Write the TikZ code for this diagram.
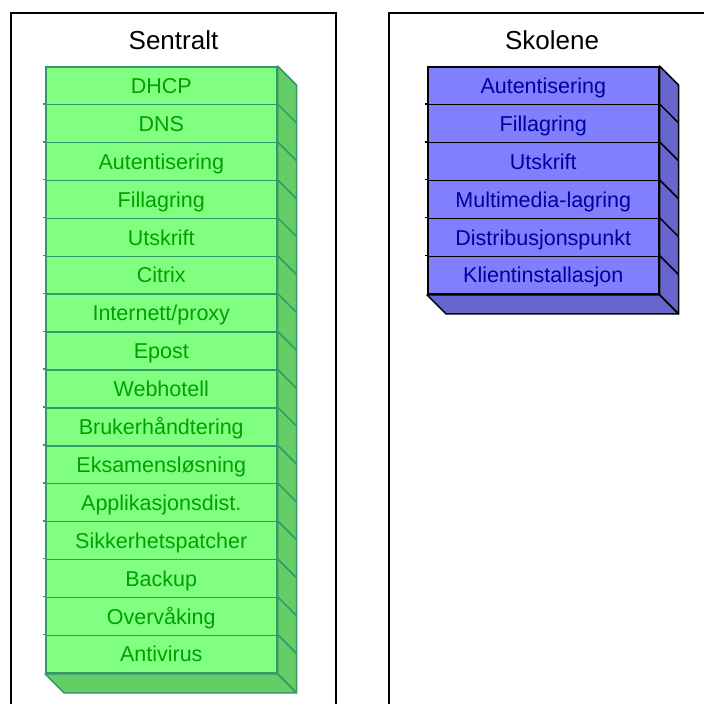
\documentclass[tikz,border=0pt]{standalone}
\usepackage{fontspec}
\setmainfont{Liberation Sans}
\usetikzlibrary{calc}
\definecolor{gfront}{HTML}{80FF80}
\definecolor{gside}{HTML}{66CC66}
\definecolor{gline}{HTML}{339966}
\definecolor{gtext}{HTML}{00A000}
\definecolor{bfront}{HTML}{8080FF}
\definecolor{bside}{HTML}{6666CC}
\definecolor{bline}{HTML}{000000}
\definecolor{btext}{HTML}{0000A0}
\begin{document}
\begin{tikzpicture}[x=1pt,y=-1pt,
  panel/.style={draw=black, line width=1.6pt},
  titletext/.style={font=\fontsize{26}{30}\selectfont, anchor=base, inner sep=0pt},
  rowbox/.style={line width=1.5pt, minimum width=231pt, minimum height=37.9pt, inner sep=0pt, text height=15.4pt, text depth=0pt, font=\fontsize{21.5}{25}\selectfont, anchor=north west},
  greenrow/.style={rowbox, draw=gline, fill=gfront, text=gtext},
  bluerow/.style={rowbox, draw=bline, fill=bfront, text=btext},
  gface/.style={draw=gline, fill=gside, line width=1.5pt, line join=round},
  bface/.style={draw=bline, fill=bside, line width=1.5pt, line join=round},
  gedge/.style={draw=gline, line width=1.5pt},
  bedge/.style={draw=bline, line width=1.5pt}]
\useasboundingbox (0,0) rectangle (704,704);
\fill[white] (0,0) rectangle (704,704);
% panels
\draw[panel] (11,13) rectangle (336,720);
\draw[panel] (389,13) rectangle (720,720);
\node[titletext] (t1) at (173.5,49) {Sentralt};
\node[titletext] (t2) at (552,49) {Skolene};
% green stack
\foreach \t [count=\i] in {DHCP,DNS,Autentisering,Fillagring,Utskrift,Citrix,Internett/proxy,Epost,Webhotell,Brukerhåndtering,Eksamensløsning,Applikasjonsdist.,Sikkerhetspatcher,Backup,Overvåking,Antivirus}{
  \node[greenrow] (g\i) at (45,{66+(\i-1)*37.9}) {\t};
}
\path[gface] (g1.north east) -- ++(19,19) -- ($(g16.south east)+(19,19)$) -- (g16.south east) -- cycle;
\path[gface] (g16.south west) -- (g16.south east) -- ++(19,19) -- ($(g16.south west)+(19,19)$) -- cycle;
\foreach \i in {2,...,16}{
  \draw[gedge] (g\i.north east) -- ++(19,19);
  \draw[gedge] ($(g\i.north west)+(-2.5,0)$) -- (g\i.north west);
}
\draw[gedge] (g16.south east) -- ++(19,19);
% blue stack
\foreach \t [count=\i] in {Autentisering,Fillagring,Utskrift,Multimedia-lagring,Distribusjonspunkt,Klientinstallasjon}{
  \node[bluerow] (b\i) at (427,{66+(\i-1)*37.9}) {\t};
}
\path[bface] (b1.north east) -- ++(19,19) -- ($(b6.south east)+(19,19)$) -- (b6.south east) -- cycle;
\path[bface] (b6.south west) -- (b6.south east) -- ++(19,19) -- ($(b6.south west)+(19,19)$) -- cycle;
\foreach \i in {2,...,6}{
  \draw[bedge] (b\i.north east) -- ++(19,19);
  \draw[bedge] ($(b\i.north west)+(-2.5,0)$) -- (b\i.north west);
}
\draw[bedge] (b6.south east) -- ++(19,19);
\end{tikzpicture}
\end{document}
